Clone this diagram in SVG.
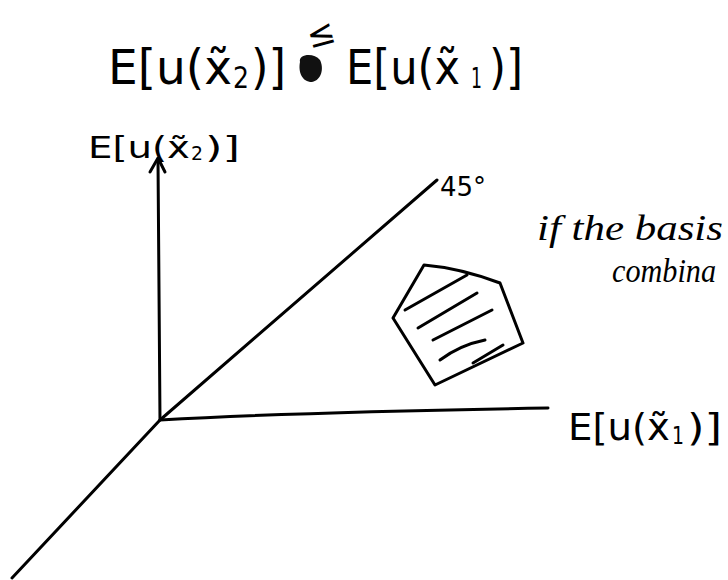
<svg xmlns="http://www.w3.org/2000/svg" width="728" height="580" viewBox="0 0 728 580">
<style>
.ln{fill:none;stroke:#000;stroke-width:3;stroke-linecap:round;stroke-linejoin:round}
.hw{font-family:"DejaVu Sans","Liberation Sans",sans-serif;fill:#000}
.sc{font-family:"Liberation Serif",serif;font-style:italic;fill:#000}
</style>
<rect width="728" height="580" fill="#fff"/>
<g id="title">
<text class="hw" x="108" y="84" font-size="48" textLength="124" lengthAdjust="spacingAndGlyphs">E[u(x̃</text>
<text class="hw" x="233" y="88" font-size="30" textLength="16" lengthAdjust="spacingAndGlyphs">2</text>
<text class="hw" x="251" y="84" font-size="48" textLength="35" lengthAdjust="spacingAndGlyphs">)]</text>
<path d="M300,62 C298,54 314,52 320,60 C324,68 322,80 312,82 C302,82 298,72 300,62 Z" fill="#111"/>
<text class="hw" x="306" y="46" font-size="34" transform="rotate(-15 318 32)">≤</text>
<text class="hw" x="346" y="84" font-size="48" textLength="114" lengthAdjust="spacingAndGlyphs">E[u(x̃</text>
<text class="hw" x="471" y="88" font-size="28" textLength="11" lengthAdjust="spacingAndGlyphs">1</text>
<text class="hw" x="489" y="84" font-size="48" textLength="34" lengthAdjust="spacingAndGlyphs">)]</text>
</g>
<g id="axes">
<path class="ln" d="M160,420 L158,160"/>
<path class="ln" d="M150,172 L158,158 L165,172"/>
<path class="ln" d="M160,420 Q300,412 548,408"/>
<path class="ln" d="M12,578 L160,420 L437,180"/>
</g>
<g id="label-y">
<text class="hw" x="88" y="158" font-size="30" textLength="102" lengthAdjust="spacingAndGlyphs">E[u(x̃</text>
<text class="hw" x="191" y="160" font-size="20" textLength="12" lengthAdjust="spacingAndGlyphs">2</text>
<text class="hw" x="205" y="158" font-size="30" textLength="35" lengthAdjust="spacingAndGlyphs">)]</text>
</g>
<g id="label-x">
<text class="hw" x="568" y="440" font-size="38" textLength="102" lengthAdjust="spacingAndGlyphs">E[u(x̃</text>
<text class="hw" x="672" y="444" font-size="24" textLength="12" lengthAdjust="spacingAndGlyphs">1</text>
<text class="hw" x="687" y="440" font-size="38" textLength="35" lengthAdjust="spacingAndGlyphs">)]</text>
</g>
<g id="label-45">
<text class="hw" x="440" y="196" font-size="26">45°</text>
</g>
<g id="note">
<text class="sc" x="537" y="240" font-size="36" textLength="186" lengthAdjust="spacingAndGlyphs">if the basis</text>
<text class="sc" x="612" y="282" font-size="34" textLength="104" lengthAdjust="spacingAndGlyphs">combina</text>
</g>
<g id="set">
<path class="ln" d="M424,265 Q460,268 500,283 L523,343 L435,385 L393,318 Z"/>
<path class="ln" d="M405,310 L467,275 M418,328 L477,293 M433,340 L492,310 M440,360 Q460,345 485,340 M473,363 L503,345"/>
</g>
</svg>
